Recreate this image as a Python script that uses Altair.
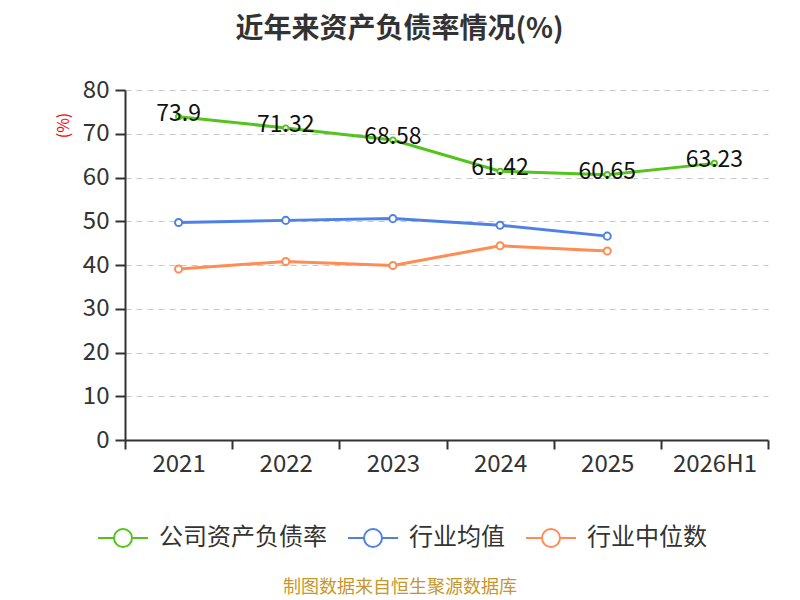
import altair as alt
import pandas as pd

years = ["2021", "2022", "2023", "2024", "2025", "2026H1"]
company = [73.9, 71.32, 68.58, 61.42, 60.65, 63.23]
ind_avg = [49.7, 50.2, 50.6, 49.1, 46.6]
ind_med = [39.1, 40.8, 39.9, 44.4, 43.2]
series = ["公司资产负债率", "行业均值", "行业中位数"]
colors = ["#52c41a", "#4e80e6", "#ff8c55"]
source_text = "制图数据来自恒生聚源数据库"

rows = []
for y, v in zip(years, company):
    rows.append({"year": y, "value": v, "series": series[0], "label": f"{v:g}"})
for y, v in zip(years, ind_avg):
    rows.append({"year": y, "value": v, "series": series[1], "label": ""})
for y, v in zip(years, ind_med):
    rows.append({"year": y, "value": v, "series": series[2], "label": ""})
df = pd.DataFrame(rows)

FONT = "Noto Sans CJK SC"
legend_sym = "M-1,0L-0.36,0M0.36,0L1,0M-0.36,0A0.36,0.36 0 1,0 0.36,0A0.36,0.36 0 1,0 -0.36,0Z"

x_enc = alt.X("year:N", sort=years, bandPosition=0.5,
              scale=alt.Scale(type="band", domain=years, paddingInner=0, paddingOuter=0),
              axis=alt.Axis(title=None, tickBand="extent", labelFontSize=24, labelColor="#333",
                            labelFont=FONT, labelPadding=3, domainColor="#333", tickColor="#333",
                            tickSize=9, domainWidth=2, tickWidth=2, labelAngle=0, grid=False))
y_enc = alt.Y("value:Q", scale=alt.Scale(domain=[0, 80]),
              axis=alt.Axis(values=list(range(0, 81, 10)), title="(%)", titleColor="red",
                            titleFontSize=16, titleFontWeight="normal", titleFont=FONT,
                            titleAngle=270, titleX=-62, titleY=35, titleAlign="center",
                            titleBaseline="middle",
                            labelFontSize=24, labelColor="#333", labelFont=FONT, labelPadding=6,
                            domainColor="#333", domainWidth=2, tickColor="#333", tickWidth=2,
                            tickSize=10, grid=True, gridColor="#c8c8c8", gridDash=[6, 5],
                            gridWidth=1.2))
color_enc = alt.Color("series:N", sort=series,
                      scale=alt.Scale(domain=series, range=colors),
                      legend=alt.Legend(title=None, orient="none", direction="horizontal",
                                        legendX=-28, legendY=422,
                                        symbolType=legend_sym, symbolSize=2500,
                                        symbolStrokeWidth=2, symbolFillColor="white",
                                        labelFontSize=24, labelColor="#333", labelFont=FONT,
                                        labelLimit=0, columnPadding=17, labelOffset=10))
stroke_enc = alt.Stroke("series:N", scale=alt.Scale(domain=series, range=colors), legend=None)

base = alt.Chart(df)
lines = base.mark_line(strokeWidth=3).encode(x=x_enc, y=y_enc, color=color_enc)
pts_main = base.transform_filter(alt.datum.series == series[0]).mark_point(
    filled=True, fill="white", size=28, strokeWidth=1.8, opacity=1
).encode(x=x_enc, y=y_enc, stroke=stroke_enc)
pts_ind = base.transform_filter(alt.datum.series != series[0]).mark_point(
    filled=True, fill="white", size=50, strokeWidth=2, opacity=1
).encode(x=x_enc, y=y_enc, stroke=stroke_enc)
labels = base.transform_filter(alt.datum.series == series[0]).mark_text(
    fontSize=23, font=FONT, color="#111", baseline="middle", dy=-3
).encode(x=x_enc, y=y_enc, text="label:N")
src = alt.Chart(pd.DataFrame({"t": [source_text]})).mark_text(
    fontSize=18, font=FONT, color="#c8962d", baseline="middle"
).encode(text="t:N", x=alt.value(275), y=alt.value(498))

chart = alt.layer(lines, pts_main, pts_ind, labels, src).properties(
    width=643, height=350,
    title=alt.Title("近年来资产负债率情况(%)", fontSize=28, font=FONT, fontWeight="bold",
                    color="#333", anchor="middle", offset=34, dx=-47),
    padding={"left": 117, "top": 82, "right": 20, "bottom": 160},
    autosize=alt.AutoSizeParams(type="none"),
).configure_view(stroke=None)

chart.save("out.html", embed_options={"renderer": "svg", "actions": False})
